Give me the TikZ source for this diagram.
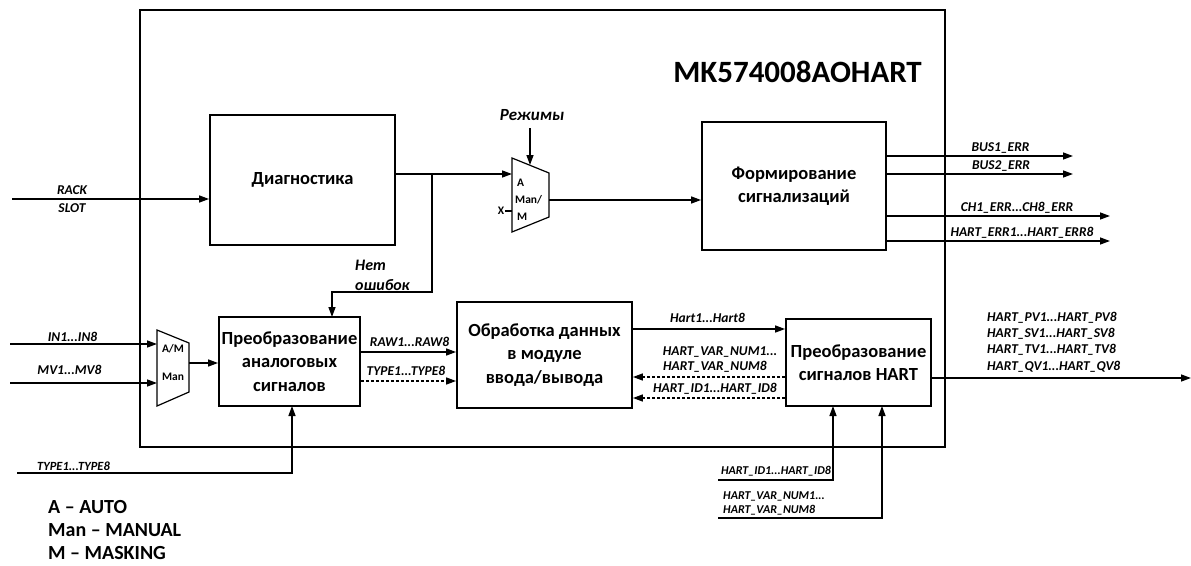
\documentclass[tikz,border=0pt]{standalone}
\usepackage{fontspec}
\setmainfont{Carlito}
\usetikzlibrary{arrows.meta}
\definecolor{darkline}{HTML}{000000}
\tikzset{
  frame/.style={
    draw=darkline,
    line width=2pt
  },
  block/.style={
    rectangle,
    draw=darkline,
    line width=1.8pt,
    align=center,
    inner sep=0pt,
    font=\fontsize{18.5}{23.5}\selectfont\bfseries
  },
  muxbody/.style={
    draw=darkline,
    line width=1.2pt
  },
  muxtext/.style={
    font=\fontsize{11.5}{13}\selectfont\bfseries,
    inner sep=0pt
  },
  wire/.style={
    line width=1.4pt,
    draw=darkline
  },
  flow/.style={
    wire,
    -{Triangle[length=10pt,width=7pt]}
  },
  dflow/.style={
    flow,
    dash pattern=on 3pt off 2pt
  },
  sig/.style={
    font=\fontsize{13.5}{15}\selectfont\bfseries\itshape,
    inner sep=0pt
  },
  small-sig/.style={
    font=\fontsize{12}{13}\selectfont\bfseries\itshape,
    inner sep=0pt
  },
  note/.style={
    font=\fontsize{16}{20}\selectfont\bfseries\itshape,
    inner sep=0pt
  },
  title/.style={
    font=\fontsize{31}{34}\selectfont\bfseries
  },
  legend/.style={
    font=\fontsize{20}{24}\selectfont\bfseries,
    anchor=west,
    inner sep=0pt
  }
}
\begin{document}
\begin{tikzpicture}[x=1pt, y=-1pt]
\useasboundingbox (0,0) rectangle (1191,565);

% Module frame and title.
\node[frame, rectangle, minimum width=805pt, minimum height=437pt] (module) at (542.5,228.5) {};
\node[title] (name) at (797.5,72) {MK574008AOHART};

% Blocks.
\node[block, minimum width=185pt, minimum height=130pt] (diag) at (302.5,180) {Диагностика};
\node[block, minimum width=184pt, minimum height=128pt] (alarm) at (794,186) {Формирование\\сигнализаций};
\node[block, minimum width=141pt, minimum height=89pt] (conv) at (289.5,361.5) {Преобразование\\аналоговых\\сигналов};
\node[block, minimum width=175pt, minimum height=106pt] (proc) at (544.5,355) {Обработка данных\\в модуле\\ввода/вывода};
\node[block, minimum width=145pt, minimum height=87pt] (hart) at (858.5,362.5) {Преобразование\\сигналов HART};

% Mode selector (A / Man / M).
\draw[muxbody] (512,158) -- (549,173) -- (549,217) -- (512,232) -- cycle;
\node[muxtext, anchor=west] (ma) at (517,183) {A};
\node[muxtext, anchor=west] (mman) at (515,200) {Man/};
\node[muxtext, anchor=west] (mm) at (517,217) {M};
\coordinate (modein) at (512,174);
\coordinate (modetop) at (530,165);
\coordinate (modeout) at (549,200);
\coordinate (modex) at (512,211);
\node[muxtext] (xlbl) at (501,211) {X};

% Input selector (A/M / Man).
\draw[muxbody] (157,330) -- (189,343) -- (189,392) -- (157,406) -- cycle;
\node[muxtext] (sam) at (173,349) {A/M};
\node[muxtext] (sman) at (173,377) {Man};
\coordinate (selin1) at (157,344);
\coordinate (selin2) at (157,383);
\coordinate (selout) at (189,363);

% Inputs on the left.
\coordinate (rack) at (12,199);
\coordinate (in) at (10,344);
\coordinate (mv) at (10,383);
\coordinate (type) at (17,473);
\draw[flow] (rack) -- (rack -| diag.west);
\node[sig] (racklbl) at (72,190) {RACK};
\node[sig] (slotlbl) at (72,208) {SLOT};
\draw[flow] (in) -- (selin1);
\node[sig] (inlbl) at (72.5,337) {IN1...IN8};
\draw[flow] (mv) -- (selin2);
\node[sig] (mvlbl) at (69.5,370) {MV1...MV8};
\draw[flow] (type) -| (292,406);
\node[sig, font=\fontsize{12.5}{14}\selectfont\bfseries\itshape] (typelbl) at (73.5,466) {TYPE1...TYPE8};
\draw[flow] (selout) -- (selout -| conv.west);

% Diagnostics to selector and converter.
\coordinate (split) at (432,174);
\draw[flow] (split -| diag.east) -- (modein);
\draw[flow] (split) |- (332,292) -- (332,317);
\node[note, align=left, anchor=west] (okay) at (355,275) {Нет\\ошибок};
\coordinate (modes) at (530,128);
\draw[flow] (modes) -- (modetop);
\node[note, font=\fontsize{17}{20}\selectfont\bfseries\itshape] (modelbl) at (532,115) {Режимы};
\draw[wire] (505,211) -- (modex);
\draw[flow] (modeout) -- (modeout -| alarm.west);

% Alarm outputs.
\coordinate (bus1) at (1073,156);
\coordinate (bus2) at (1073,174);
\coordinate (cherr) at (1110,216);
\coordinate (harterr) at (1110,241);
\draw[flow] (bus1 -| alarm.east) -- (bus1);
\draw[flow] (bus2 -| alarm.east) -- (bus2);
\draw[flow] (cherr -| alarm.east) -- (cherr);
\draw[flow] (harterr -| alarm.east) -- (harterr);
\node[sig] (bus1lbl) at (1000.5,148) {BUS1\_ERR};
\node[sig] (bus2lbl) at (1001,166) {BUS2\_ERR};
\node[sig] (chlbl) at (1017,208) {CH1\_ERR...CH8\_ERR};
\node[sig] (hartlbl) at (1022,233) {HART\_ERR1...HART\_ERR8};

% Analog path.
\draw[flow] (conv.east |- 0,352) -- (proc.west |- 0,352);
\node[sig] (rawlbl) at (409.5,342) {RAW1...RAW8};
\draw[dflow] (conv.east |- 0,381) -- (proc.west |- 0,381);
\node[sig] (typlbl) at (406,371) {TYPE1...TYPE8};

% HART exchange.
\draw[flow] (proc.east |- 0,329) -- (hart.west |- 0,329);
\node[sig] (hart1lbl) at (707.5,318) {Hart1...Hart8};
\draw[dflow] (hart.west |- 0,377) -- (proc.east |- 0,377);
\node[sig] (varlbl1) at (720,352) {HART\_VAR\_NUM1...};
\node[sig] (varlbl2) at (715,367) {HART\_VAR\_NUM8};
\draw[dflow] (hart.west |- 0,398) -- (proc.east |- 0,398);
\node[sig] (idlbl) at (715,389) {HART\_ID1...HART\_ID8};

% HART outputs.
\coordinate (hartout) at (1191,378);
\draw[flow] (hart.east |- hartout) -- (hartout);
\node[sig, align=left, anchor=west, font=\fontsize{13.5}{16.3}\selectfont\bfseries\itshape] (pvlbl) at (987,342) {HART\_PV1...HART\_PV8\\HART\_SV1...HART\_SV8\\HART\_TV1...HART\_TV8\\HART\_QV1...HART\_QV8};

% HART inputs from below.
\coordinate (idin) at (718,480);
\coordinate (varin) at (718,518);
\draw[flow] (idin) -| (833,406);
\draw[flow] (varin) -| (882,406);
\node[small-sig] (idin-lbl) at (776,471) {HART\_ID1...HART\_ID8};
\node[small-sig, align=left, anchor=west, font=\fontsize{12}{14}\selectfont\bfseries\itshape] (varin-lbl) at (723,503) {HART\_VAR\_NUM1...\\HART\_VAR\_NUM8};

% Legend.
\node[legend] (lega) at (48,507) {A – AUTO};
\node[legend] (legman) at (48,530) {Man – MANUAL};
\node[legend] (legm) at (48,553) {M – MASKING};

\end{tikzpicture}
\end{document}
